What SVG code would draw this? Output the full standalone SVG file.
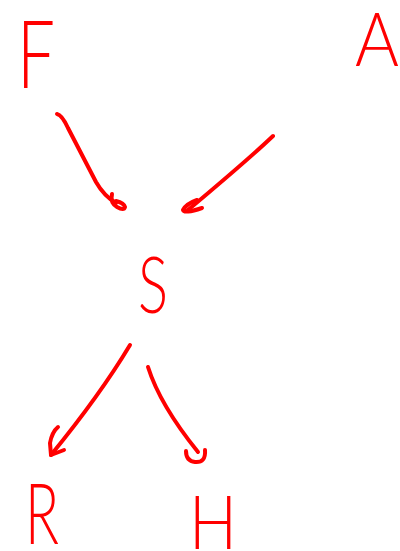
<svg xmlns="http://www.w3.org/2000/svg" width="400" height="551" viewBox="0 0 400 551">
<style>
.lbl{font-family:Lato,"Liberation Sans",sans-serif;font-weight:300;fill:#f00;}
.c{fill:none;stroke:#f00;stroke-width:4;stroke-linecap:round;stroke-linejoin:round;}
</style>
<rect width="400" height="551" fill="#fff"/>
<g id="node-F"><text class="lbl" x="17" y="88" font-size="94" textLength="38" lengthAdjust="spacingAndGlyphs">F</text></g>
<g id="node-A"><text class="lbl" x="355" y="66" font-size="75" textLength="44" lengthAdjust="spacingAndGlyphs">A</text></g>
<g id="node-S"><text class="lbl" x="138" y="313" font-size="78" textLength="30" lengthAdjust="spacingAndGlyphs">S</text></g>
<g id="node-R"><text class="lbl" x="25" y="544" font-size="84" textLength="34" lengthAdjust="spacingAndGlyphs">R</text></g>
<g id="node-H"><text class="lbl" x="189" y="549" font-size="75" textLength="48" lengthAdjust="spacingAndGlyphs">H</text></g>
<g id="connectors">
<path class="c" d="M57,114 Q62,115 68,128 L96,182 Q104,196 116,203"/>
<path class="c" d="M112,194 Q110,203 117,207 Q124,211 125,207 Q124,203 116,201"/>
<path class="c" d="M273,136 Q250,158 188,210"/>
<path class="c" d="M197,200 Q186,204 183,210 Q184,214 202,208"/>
<path class="c" d="M130,345 Q100,395 51,455"/>
<path class="c" d="M58,427 Q52,432 50,443 L51,455 L64,450"/>
<path class="c" d="M148,367 Q160,405 198,452"/>
<path class="c" d="M186,451 Q186,461 195,462 Q206,463 205,450"/>
</g>
</svg>
